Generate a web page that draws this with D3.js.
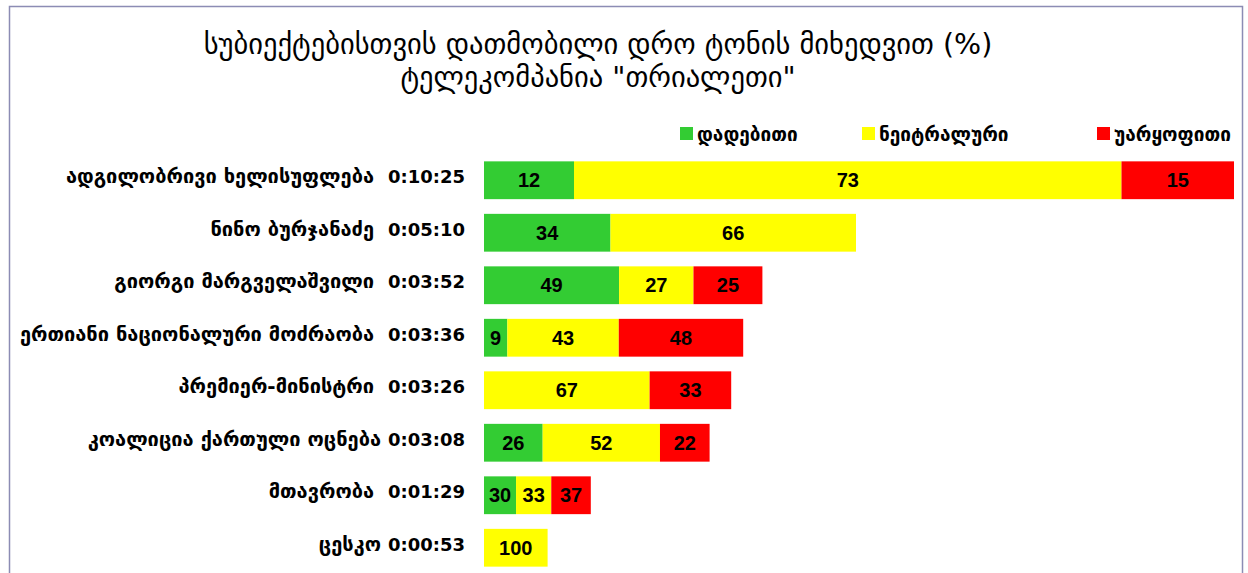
<!DOCTYPE html>
<html><head><meta charset="utf-8">
<script src="https://cdn.jsdelivr.net/npm/d3@7"></script>
<style>
html,body{margin:0;padding:0;background:#fff;}
svg{display:block;}
</style></head>
<body>
<svg id="chart" width="1248" height="573"></svg>
<script>
const titleLines = ["სუბიექტებისთვის დათმობილი დრო ტონის მიხედვით (%)", "ტელეკომპანია \"თრიალეთი\""];
const categories = ["ადგილობრივი ხელისუფლება  0:10:25","ნინო ბურჯანაძე  0:05:10","გიორგი მარგველაშვილი  0:03:52","ერთიანი ნაციონალური მოძრაობა  0:03:36","პრემიერ-მინისტრი  0:03:26","კოალიცია ქართული ოცნება 0:03:08","მთავრობა  0:01:29","ცესკო 0:00:53"];
const durations = ["0:10:25","0:05:10","0:03:52","0:03:36","0:03:26","0:03:08","0:01:29","0:00:53"];
const seriesNames = ["დადებითი","ნეიტრალური","უარყოფითი"];
const positive = [12,34,49,9,0,26,30,0];
const neutral  = [73,66,27,43,67,52,33,100];
const negative = [15,0,25,48,33,22,37,0];
const colors = ["#33cc33","#ffff00","#ff0000"];

const toSec = s => { const p = s.split(":").map(Number); return p[0]*3600+p[1]*60+p[2]; };
const svg = d3.select("#chart");
const W = 1248, H = 573;

svg.append("rect").attr("x",9.5).attr("y",6.5).attr("width",1233).attr("height",H+20)
  .attr("fill","#fff").attr("stroke","#8c8cb4").attr("stroke-width",1.5);

const geo = "'DejaVu Sans', 'Noto Sans', sans-serif";
svg.selectAll("text.title").data(titleLines).join("text").attr("class","title")
  .attr("x",598).attr("y",(d,i)=>54+i*33).attr("text-anchor","middle")
  .attr("font-family",geo).attr("font-size",28.5).attr("fill","#000").text(d=>d);

const rows = categories.map((c,i)=>{
  const vals=[positive[i],neutral[i],negative[i]];
  const sum=d3.sum(vals); const sec=toSec(durations[i]);
  let acc=0;
  const segs=vals.map((v,k)=>{const s={k,v,x0:acc*sec/sum,x1:(acc+v)*sec/sum};acc+=v;return s;});
  return {c,segs};
});

const x = d3.scaleLinear().domain([0,625]).range([484,1234]);
const y = d3.scaleBand().domain(categories).range([154,574]).paddingInner(0.28).paddingOuter(0.14);

const g = svg.append("g");
const row = g.selectAll("g.row").data(rows).join("g").attr("class","row")
  .attr("transform",d=>`translate(0,${y(d.c)})`);
row.selectAll("rect").data(d=>d.segs.filter(s=>s.v>0)).join("rect")
  .attr("x",s=>x(s.x0)).attr("width",s=>x(s.x1)-x(s.x0)).attr("y",0).attr("height",y.bandwidth())
  .attr("fill",s=>colors[s.k]);
row.selectAll("text").data(d=>d.segs.filter(s=>s.v>0)).join("text")
  .attr("x",s=>(x(s.x0)+x(s.x1))/2).attr("y",y.bandwidth()/2).attr("dy","0.36em")
  .attr("text-anchor","middle").attr("font-family","'Liberation Sans', Arial, sans-serif")
  .attr("font-weight","bold").attr("font-size",20).attr("fill","#000").text(s=>s.v);

const yAxis = d3.axisLeft(y).tickSize(0).tickPadding(0);
const ax = svg.append("g").attr("transform","translate(465,0)").call(yAxis);
ax.select(".domain").remove();
ax.selectAll(".tick text").each(function(d){
  const t = d3.select(this);
  const idx = d.lastIndexOf(" ");
  const name = d.slice(0, idx+1), time = d.slice(idx+1);
  t.text(null).attr("fill","#000").attr("font-weight","bold").style("white-space","pre");
  t.append("tspan").attr("font-family",geo).attr("font-size",20).text(name);
  t.append("tspan").attr("font-family",geo).attr("font-size",18).text(time);
});

const legX = [680,862,1097];
const leg = svg.selectAll("g.leg").data(seriesNames).join("g").attr("class","leg")
  .attr("transform",(d,i)=>`translate(${legX[i]},127)`);
leg.append("rect").attr("width",13).attr("height",13).attr("fill",(d,i)=>colors[i]);
leg.append("text").attr("x",17).attr("y",7).attr("dy","0.36em").attr("font-family",geo)
  .attr("font-weight","bold").attr("font-size",19).attr("fill","#000").text(d=>d);
</script>
</body></html>
